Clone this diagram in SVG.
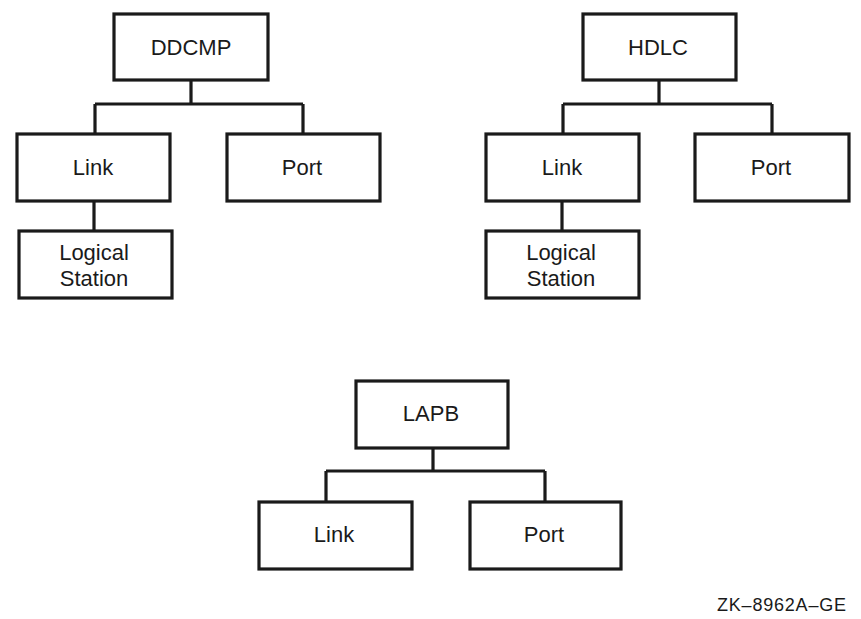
<svg xmlns="http://www.w3.org/2000/svg" width="861" height="619" viewBox="0 0 861 619">
<style>
.box{fill:#fff;stroke:#1a1a1a;stroke-width:3.2}
.ln{fill:none;stroke:#1a1a1a;stroke-width:3.2}
text{font-family:"Liberation Sans",Arial,sans-serif;font-size:22px;fill:#1a1a1a;text-anchor:middle}
.id{font-size:18px;text-anchor:start}
</style>
<rect width="861" height="619" fill="#fff"/>
<g id="connectors">
<path class="ln" d="M191,80V104M95,104H303M95,104V134M303,104V134M94,201V231"/>
<path class="ln" d="M659,80V104M563,104H772M563,104V134M772,104V134M562,201V231"/>
<path class="ln" d="M433,448V471M326,471H545M326,471V502M545,471V502"/>
</g>
<g id="ddcmp"><rect class="box" x="114" y="14" width="154" height="66"/><text x="191" y="55">DDCMP</text></g>
<g id="ddcmp-link"><rect class="box" x="17" y="134" width="153" height="67"/><text x="93" y="175">Link</text></g>
<g id="ddcmp-port"><rect class="box" x="227" y="134" width="153" height="67"/><text x="302" y="175">Port</text></g>
<g id="ddcmp-logical"><rect class="box" x="19" y="231" width="153" height="67"/><text x="94" y="260">Logical</text><text x="94" y="286">Station</text></g>
<g id="hdlc"><rect class="box" x="583" y="14" width="153" height="66"/><text x="658" y="55">HDLC</text></g>
<g id="hdlc-link"><rect class="box" x="486" y="134" width="153" height="67"/><text x="562" y="175">Link</text></g>
<g id="hdlc-port"><rect class="box" x="695" y="134" width="154" height="67"/><text x="771" y="175">Port</text></g>
<g id="hdlc-logical"><rect class="box" x="486" y="231" width="153" height="67"/><text x="561" y="260">Logical</text><text x="561" y="286">Station</text></g>
<g id="lapb"><rect class="box" x="356" y="381" width="152" height="67"/><text x="431" y="421">LAPB</text></g>
<g id="lapb-link"><rect class="box" x="259" y="502" width="153" height="67"/><text x="334" y="542">Link</text></g>
<g id="lapb-port"><rect class="box" x="470" y="502" width="151" height="67"/><text x="544" y="542">Port</text></g>
<text class="id" x="717" y="611" textLength="129" lengthAdjust="spacing">ZK–8962A–GE</text>
</svg>
